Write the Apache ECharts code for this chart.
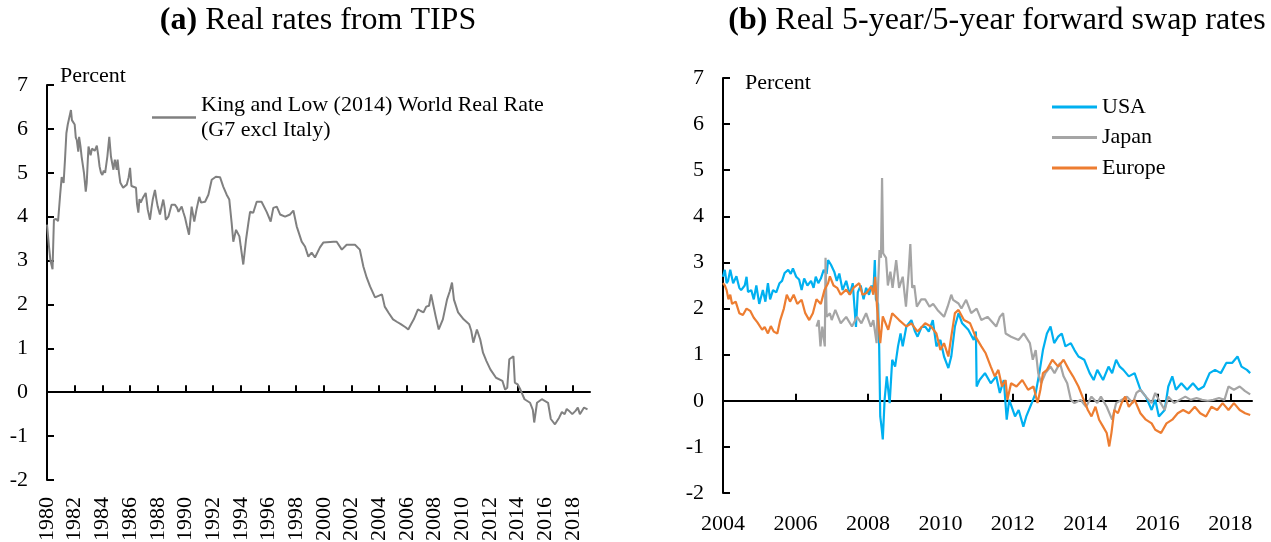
<!DOCTYPE html>
<html>
<head>
<meta charset="utf-8">
<script src="https://cdn.jsdelivr.net/npm/echarts@6/dist/echarts.min.js"></script>
<style>
  html, body { margin: 0; padding: 0; background: #fff; }
  #chart { width: 1271px; height: 542px; }
</style>
</head>
<body>
<div id="chart"></div>
<script>
// ---- data ----
var leftLabelYears = [1980, 1982, 1984, 1986, 1988, 1990, 1992, 1994, 1996, 1998, 2000, 2002, 2004, 2006, 2008, 2010, 2012, 2014, 2016, 2018];
var leftTickYears = [1982, 1984, 1986, 1988, 1990, 1992, 1994, 1996, 1998, 2000, 2002, 2004, 2006, 2008, 2010, 2012, 2014, 2016, 2018];
var rightLabelYears = [2004, 2006, 2008, 2010, 2012, 2014, 2016, 2018];
var rightTickYears = [2006, 2008, 2010, 2012, 2014, 2016, 2018];

// King and Low (2014) world real rate, [year, percent]
var kingLowData = [
  [1980.0, 3.82], [1980.15, 3.3], [1980.25, 3.0], [1980.4, 2.8], [1980.5, 3.93], [1980.65, 3.95], [1980.8, 3.9],
  [1980.95, 4.5], [1981.06, 4.9], [1981.2, 4.77], [1981.3, 5.3], [1981.4, 5.9], [1981.5, 6.1], [1981.6, 6.13],
  [1981.73, 6.43], [1981.8, 6.2], [1981.9, 6.16], [1982.0, 6.1], [1982.08, 5.8], [1982.15, 5.75], [1982.26, 5.48],
  [1982.32, 5.82], [1982.42, 5.6], [1982.5, 5.37], [1982.6, 5.15], [1982.67, 5.0], [1982.8, 4.57], [1982.87, 4.77],
  [1982.95, 5.3], [1983.0, 5.6], [1983.15, 5.4], [1983.25, 5.55], [1983.35, 5.57], [1983.45, 5.5], [1983.6, 5.62],
  [1983.7, 5.4], [1983.8, 5.14], [1983.9, 5.0], [1984.0, 4.95], [1984.1, 5.05], [1984.2, 5.0], [1984.36, 5.37],
  [1984.5, 5.82], [1984.62, 5.37], [1984.72, 5.2], [1984.8, 5.07], [1984.9, 5.3], [1985.04, 5.07], [1985.1, 5.3],
  [1985.2, 5.0], [1985.3, 4.77], [1985.4, 4.8], [1985.5, 4.66], [1985.6, 4.7], [1985.76, 4.73], [1985.9, 4.9],
  [1986.0, 5.11], [1986.1, 4.7], [1986.24, 4.68], [1986.43, 4.66], [1986.5, 4.3], [1986.6, 4.09], [1986.68, 4.4],
  [1986.77, 4.32], [1986.96, 4.45], [1987.13, 4.54], [1987.28, 4.16], [1987.44, 3.93], [1987.55, 4.2], [1987.64, 4.39],
  [1987.8, 4.61], [1987.9, 4.4], [1988.0, 4.23], [1988.16, 4.05], [1988.4, 4.39], [1988.5, 4.2], [1988.58, 3.93],
  [1988.77, 4.0], [1989.0, 4.27], [1989.25, 4.27], [1989.4, 4.2], [1989.5, 4.11], [1989.73, 4.23], [1989.85, 4.1],
  [1989.97, 3.98], [1990.1, 3.8], [1990.26, 3.59], [1990.45, 4.23], [1990.64, 3.89], [1990.8, 4.16], [1991.0, 4.45],
  [1991.13, 4.32], [1991.42, 4.34], [1991.66, 4.5], [1991.9, 4.84], [1992.2, 4.91], [1992.5, 4.9], [1992.74, 4.68],
  [1992.98, 4.5], [1993.17, 4.39], [1993.34, 3.86], [1993.46, 3.43], [1993.66, 3.7], [1993.9, 3.55], [1994.0, 3.32],
  [1994.18, 2.91], [1994.38, 3.48], [1994.55, 3.86], [1994.67, 4.11], [1994.9, 4.09], [1995.15, 4.34], [1995.5, 4.34],
  [1995.87, 4.11], [1996.16, 3.89], [1996.35, 4.2], [1996.6, 4.23], [1996.84, 4.05], [1997.2, 4.0], [1997.56, 4.05],
  [1997.8, 4.14], [1998.04, 3.78], [1998.4, 3.43], [1998.64, 3.32], [1998.88, 3.09], [1999.12, 3.18], [1999.36, 3.07],
  [1999.72, 3.3], [1999.96, 3.41], [2000.7, 3.43], [2000.93, 3.43], [2001.3, 3.25], [2001.65, 3.36], [2002.25, 3.36],
  [2002.6, 3.25], [2002.86, 2.86], [2003.1, 2.61], [2003.34, 2.41], [2003.7, 2.16], [2004.2, 2.23], [2004.4, 1.95],
  [2004.7, 1.8], [2005.0, 1.66], [2005.3, 1.6], [2005.56, 1.55], [2005.9, 1.48], [2006.1, 1.43], [2006.3, 1.55],
  [2006.5, 1.66], [2006.8, 1.89], [2007.0, 1.85], [2007.2, 1.82], [2007.4, 1.95], [2007.6, 1.97], [2007.75, 2.23],
  [2007.9, 2.0], [2008.1, 1.7], [2008.3, 1.43], [2008.6, 1.66], [2008.9, 2.11], [2009.1, 2.3], [2009.26, 2.5],
  [2009.4, 2.11], [2009.7, 1.82], [2010.1, 1.66], [2010.5, 1.55], [2010.65, 1.4], [2010.8, 1.13], [2011.06, 1.43],
  [2011.3, 1.2], [2011.5, 0.9], [2011.75, 0.71], [2012.03, 0.52], [2012.44, 0.33], [2012.9, 0.26], [2013.1, 0.06],
  [2013.25, 0.1], [2013.4, 0.75], [2013.7, 0.82], [2013.8, 0.22], [2014.0, 0.18], [2014.2, 0.06], [2014.5, -0.16],
  [2014.9, -0.24], [2015.1, -0.4], [2015.2, -0.69], [2015.4, -0.24], [2015.75, -0.16], [2016.2, -0.24], [2016.4, -0.61],
  [2016.7, -0.73], [2017.0, -0.58], [2017.2, -0.45], [2017.4, -0.5], [2017.55, -0.38], [2017.7, -0.42], [2017.95, -0.5],
  [2018.2, -0.42], [2018.35, -0.35], [2018.5, -0.5], [2018.8, -0.35], [2019.05, -0.39]
];

var usaData = [
  [2004.0, 2.69], [2004.05, 2.84], [2004.1, 2.55], [2004.14, 2.6], [2004.2, 2.84], [2004.28, 2.55], [2004.37, 2.7],
  [2004.45, 2.45], [2004.5, 2.4], [2004.6, 2.5], [2004.65, 2.69], [2004.69, 2.36], [2004.78, 2.4], [2004.85, 2.2],
  [2004.92, 2.5], [2005.0, 2.1], [2005.1, 2.4], [2005.17, 2.15], [2005.24, 2.55], [2005.3, 2.2], [2005.38, 2.4],
  [2005.47, 2.35], [2005.56, 2.55], [2005.63, 2.6], [2005.7, 2.77], [2005.8, 2.84], [2005.87, 2.75], [2005.93, 2.87],
  [2006.02, 2.69], [2006.1, 2.63], [2006.17, 2.4], [2006.24, 2.65], [2006.33, 2.5], [2006.43, 2.6], [2006.5, 2.45],
  [2006.56, 2.69], [2006.63, 2.55], [2006.7, 2.65], [2006.78, 2.84], [2006.86, 2.75], [2006.9, 3.05], [2006.98, 2.95],
  [2007.07, 2.8], [2007.14, 2.6], [2007.21, 2.76], [2007.3, 2.4], [2007.4, 2.6], [2007.5, 2.3], [2007.58, 2.55],
  [2007.67, 1.6], [2007.72, 2.35], [2007.8, 2.5], [2007.88, 2.2], [2007.95, 2.45], [2008.03, 2.3], [2008.1, 2.5],
  [2008.15, 2.35], [2008.19, 3.05], [2008.22, 2.2], [2008.28, 2.1], [2008.31, 1.18], [2008.34, -0.34], [2008.38, -0.6],
  [2008.41, -0.84], [2008.46, 0.02], [2008.52, 0.53], [2008.6, -0.05], [2008.67, 0.89], [2008.75, 0.74], [2008.83, 1.18],
  [2008.9, 1.46], [2008.96, 1.18], [2009.06, 1.61], [2009.2, 1.75], [2009.3, 1.5], [2009.37, 1.39], [2009.48, 1.6],
  [2009.58, 1.61], [2009.68, 1.5], [2009.79, 1.75], [2009.89, 1.18], [2010.0, 1.32], [2010.1, 0.96], [2010.22, 0.71],
  [2010.3, 0.96], [2010.4, 1.61], [2010.5, 1.9], [2010.6, 1.68], [2010.77, 1.54], [2010.92, 1.32], [2010.98, 1.5],
  [2011.0, 0.31], [2011.08, 0.45], [2011.23, 0.6], [2011.39, 0.38], [2011.54, 0.53], [2011.64, 0.17], [2011.75, 0.45],
  [2011.83, -0.41], [2011.9, 0.02], [2012.06, -0.34], [2012.16, -0.2], [2012.29, -0.56], [2012.37, -0.34], [2012.52, -0.05],
  [2012.63, 0.17], [2012.73, 0.6], [2012.83, 1.1], [2012.94, 1.46], [2013.04, 1.61], [2013.14, 1.25], [2013.25, 1.39],
  [2013.35, 1.46], [2013.45, 1.18], [2013.6, 1.25], [2013.7, 1.1], [2013.81, 0.96], [2013.97, 0.89], [2014.12, 0.6],
  [2014.23, 0.45], [2014.33, 0.67], [2014.49, 0.45], [2014.64, 0.74], [2014.74, 0.6], [2014.85, 0.89], [2014.95, 0.74],
  [2015.05, 0.67], [2015.2, 0.53], [2015.36, 0.6], [2015.52, 0.24], [2015.67, 0.09], [2015.83, -0.2], [2015.93, 0.02],
  [2016.03, -0.34], [2016.19, -0.2], [2016.29, 0.31], [2016.4, 0.53], [2016.5, 0.24], [2016.65, 0.38], [2016.81, 0.24],
  [2016.97, 0.38], [2017.12, 0.24], [2017.27, 0.31], [2017.43, 0.6], [2017.58, 0.67], [2017.74, 0.6], [2017.89, 0.82],
  [2018.05, 0.82], [2018.2, 0.96], [2018.31, 0.74], [2018.46, 0.67], [2018.55, 0.6]
];

var japanData = [
  [2006.58, 1.61], [2006.64, 1.75], [2006.69, 1.18], [2006.74, 1.61], [2006.81, 1.18], [2006.83, 3.1], [2006.86, 1.82],
  [2006.95, 1.9], [2007.0, 1.75], [2007.1, 1.97], [2007.25, 1.68], [2007.4, 1.82], [2007.56, 1.61], [2007.7, 1.82],
  [2007.82, 1.68], [2007.95, 1.9], [2008.08, 1.61], [2008.15, 1.75], [2008.24, 1.25], [2008.28, 2.5], [2008.32, 3.27],
  [2008.36, 3.1], [2008.39, 4.83], [2008.42, 3.2], [2008.5, 3.1], [2008.55, 2.5], [2008.62, 2.8], [2008.68, 2.45],
  [2008.78, 3.05], [2008.86, 2.45], [2008.96, 2.69], [2009.05, 2.04], [2009.12, 2.75], [2009.17, 3.4], [2009.22, 2.45],
  [2009.28, 2.5], [2009.35, 2.04], [2009.47, 2.2], [2009.58, 2.2], [2009.7, 2.04], [2009.8, 2.1], [2009.92, 1.97],
  [2010.1, 1.82], [2010.2, 2.04], [2010.3, 2.3], [2010.35, 2.19], [2010.5, 2.11], [2010.58, 2.0], [2010.71, 2.19],
  [2010.85, 1.9], [2011.0, 2.0], [2011.13, 1.75], [2011.3, 1.82], [2011.54, 1.61], [2011.64, 1.82], [2011.73, 1.9],
  [2011.8, 1.46], [2011.95, 1.39], [2012.16, 1.32], [2012.3, 1.46], [2012.47, 1.25], [2012.55, 0.89], [2012.63, 1.1],
  [2012.7, 0.6], [2012.78, 0.38], [2012.9, 0.6], [2013.04, 0.74], [2013.15, 0.6], [2013.3, 0.82], [2013.4, 0.53],
  [2013.5, 0.38], [2013.6, 0.02], [2013.7, -0.05], [2013.87, 0.02], [2014.02, -0.13], [2014.17, 0.09], [2014.33, -0.05],
  [2014.43, 0.09], [2014.59, -0.13], [2014.74, -0.41], [2014.85, -0.05], [2015.0, 0.02], [2015.15, 0.09], [2015.31, -0.05],
  [2015.41, 0.17], [2015.52, 0.24], [2015.67, 0.09], [2015.83, -0.05], [2015.93, 0.17], [2016.03, 0.02], [2016.19, -0.2],
  [2016.29, 0.09], [2016.45, -0.05], [2016.6, 0.02], [2016.76, 0.09], [2016.91, 0.02], [2017.07, 0.06], [2017.22, 0.02],
  [2017.38, 0.0], [2017.53, 0.02], [2017.69, 0.06], [2017.84, 0.02], [2017.95, 0.31], [2018.1, 0.24], [2018.26, 0.31],
  [2018.41, 0.21], [2018.55, 0.14]
];

var europeData = [
  [2004.0, 2.55], [2004.05, 2.5], [2004.1, 2.4], [2004.15, 2.2], [2004.2, 2.3], [2004.25, 2.1], [2004.35, 2.15],
  [2004.45, 1.9], [2004.55, 1.86], [2004.65, 2.0], [2004.75, 1.95], [2004.85, 1.8], [2004.95, 1.7], [2005.08, 1.54],
  [2005.15, 1.6], [2005.24, 1.46], [2005.32, 1.62], [2005.4, 1.5], [2005.5, 1.46], [2005.58, 1.75], [2005.68, 2.0],
  [2005.76, 2.3], [2005.85, 2.15], [2005.95, 2.3], [2006.05, 2.1], [2006.17, 2.19], [2006.27, 1.9], [2006.38, 1.75],
  [2006.48, 1.9], [2006.58, 2.2], [2006.7, 2.1], [2006.8, 2.4], [2006.9, 2.55], [2006.95, 2.7], [2007.05, 2.5],
  [2007.15, 2.45], [2007.25, 2.3], [2007.4, 2.41], [2007.5, 2.3], [2007.6, 2.45], [2007.76, 2.55], [2007.85, 2.3],
  [2007.95, 2.33], [2008.09, 2.48], [2008.15, 2.3], [2008.2, 2.69], [2008.25, 2.04], [2008.34, 1.25], [2008.41, 1.83],
  [2008.56, 1.54], [2008.67, 1.9], [2008.86, 1.75], [2009.06, 1.61], [2009.2, 1.68], [2009.37, 1.5], [2009.58, 1.68],
  [2009.74, 1.61], [2009.89, 1.46], [2010.0, 1.1], [2010.1, 1.25], [2010.22, 0.96], [2010.3, 1.39], [2010.4, 1.9],
  [2010.5, 1.97], [2010.65, 1.75], [2010.82, 1.68], [2010.97, 1.39], [2011.13, 1.18], [2011.25, 1.03], [2011.39, 0.74],
  [2011.5, 0.53], [2011.6, 0.67], [2011.7, 0.31], [2011.8, 0.45], [2011.85, 0.02], [2011.95, 0.38], [2012.1, 0.31],
  [2012.26, 0.45], [2012.42, 0.24], [2012.57, 0.31], [2012.68, -0.05], [2012.76, 0.24], [2012.83, 0.6], [2012.94, 0.67],
  [2013.09, 0.89], [2013.25, 0.74], [2013.4, 0.89], [2013.55, 0.67], [2013.66, 0.53], [2013.81, 0.31], [2013.92, 0.09],
  [2014.07, -0.2], [2014.17, -0.34], [2014.28, -0.13], [2014.38, -0.41], [2014.49, -0.56], [2014.59, -0.7], [2014.66, -0.99],
  [2014.72, -0.7], [2014.8, -0.2], [2014.9, -0.27], [2015.0, -0.05], [2015.1, 0.09], [2015.2, -0.13], [2015.36, 0.02],
  [2015.52, -0.27], [2015.67, -0.41], [2015.83, -0.49], [2015.93, -0.63], [2016.09, -0.7], [2016.24, -0.49], [2016.4, -0.41],
  [2016.55, -0.27], [2016.7, -0.2], [2016.86, -0.27], [2017.02, -0.13], [2017.17, -0.27], [2017.33, -0.34], [2017.48, -0.13],
  [2017.64, -0.2], [2017.79, -0.05], [2017.95, -0.2], [2018.1, -0.05], [2018.26, -0.2], [2018.41, -0.27], [2018.55, -0.31]
];

// ---- styles ----
var FONT = '"Liberation Serif", "Times New Roman", serif';
var txt = { fontFamily: FONT, fontSize: 22, color: '#000' };
var blackLine = { color: '#000', width: 2 };
var plainNumber = function (v) { return String(v); };

function yAxisFor(gridIndex, nameGap, namePad) {
  return {
    gridIndex: gridIndex, type: 'value', min: -2, max: 7, interval: 1,
    name: 'Percent', nameLocation: 'end', nameGap: nameGap,
    nameTextStyle: { fontFamily: FONT, fontSize: 22, color: '#000', align: 'left', verticalAlign: 'middle', padding: [0, 0, 0, namePad] },
    axisLine: { show: true, onZero: false, lineStyle: blackLine },
    axisTick: { show: true, inside: true, length: 7, lineStyle: blackLine },
    axisLabel: Object.assign({ margin: 19, formatter: plainNumber }, txt),
    splitLine: { show: false }
  };
}

function titleFor(label, rest, centerX) {
  return {
    text: '{b|' + label + '} ' + rest, left: centerX, top: 0, textAlign: 'center',
    textStyle: { fontFamily: FONT, fontSize: 32, fontWeight: 'normal', color: '#000',
      rich: { b: { fontFamily: FONT, fontSize: 32, fontWeight: 'bold', color: '#000' } } }
  };
}

var chart = echarts.init(document.getElementById('chart'), null, { renderer: 'canvas' });
var option = {
  animation: false,
  backgroundColor: '#fff',
  title: [
    titleFor('(a)', 'Real rates from TIPS', 313),
    titleFor('(b)', 'Real 5-year/5-year forward swap rates', 992)
  ],
  legend: [
    { data: [{ name: 'King and Low (2014) World Real Rate', icon: 'rect' }], left: 152, top: 80, orient: 'vertical', padding: 0,
      itemWidth: 44, itemHeight: 2.5,
      formatter: function () { return 'King and Low (2014) World Real Rate\n(G7 excl Italy)'; },
      textStyle: { fontFamily: FONT, fontSize: 22, color: '#000', lineHeight: 25, padding: [25, 0, 0, 0] } },
    { data: [{ name: 'USA', icon: 'rect' }, { name: 'Japan', icon: 'rect' }, { name: 'Europe', icon: 'rect' }],
      left: 1052, top: 96, orient: 'vertical', padding: 0,
      itemWidth: 45, itemHeight: 3, itemGap: 8.5,
      textStyle: { fontFamily: FONT, fontSize: 22, color: '#000', lineHeight: 22 } }
  ],
  grid: [
    { left: 47, top: 85, width: 543, height: 395, outerBoundsMode: 'none' },
    { left: 723, top: 78, width: 529, height: 415, outerBoundsMode: 'none' }
  ],
  xAxis: [
    // (a) labels along the bottom
    { gridIndex: 0, type: 'value', min: 1980, max: 2019.23, position: 'bottom',
      axisLine: { show: false, onZero: false }, axisTick: { show: false }, splitLine: { show: false },
      axisLabel: Object.assign({ rotate: 90, margin: 17, customValues: leftLabelYears, formatter: plainNumber }, txt) },
    // (a) zero line with upward ticks
    { gridIndex: 0, type: 'value', min: 1980, max: 2019.23, position: 'bottom',
      axisLine: { show: true, onZero: true, lineStyle: blackLine },
      axisTick: { show: true, inside: true, length: 7, lineStyle: blackLine, customValues: leftTickYears },
      axisLabel: { show: false }, splitLine: { show: false } },
    // (b) labels
    { gridIndex: 1, type: 'value', min: 2004, max: 2018.6, position: 'bottom',
      axisLine: { show: false, onZero: false }, axisTick: { show: false }, splitLine: { show: false },
      axisLabel: Object.assign({ margin: 20, customValues: rightLabelYears, formatter: plainNumber }, txt) },
    // (b) zero line
    { gridIndex: 1, type: 'value', min: 2004, max: 2018.6, position: 'bottom',
      axisLine: { show: true, onZero: true, lineStyle: blackLine },
      axisTick: { show: true, inside: true, length: 7, lineStyle: blackLine, customValues: rightTickYears },
      axisLabel: { show: false }, splitLine: { show: false } }
  ],
  yAxis: [yAxisFor(0, 9, 13), yAxisFor(1, -5, 22)],
  series: [
    { name: 'King and Low (2014) World Real Rate', type: 'line', xAxisIndex: 1, yAxisIndex: 0,
      data: kingLowData, showSymbol: false, symbol: 'none', color: '#808080',
      lineStyle: { color: '#808080', width: 2 } },
    { name: 'USA', type: 'line', xAxisIndex: 3, yAxisIndex: 1, data: usaData, showSymbol: false, symbol: 'none',
      color: '#00B0F0', lineStyle: { color: '#00B0F0', width: 2.2 } },
    { name: 'Japan', type: 'line', xAxisIndex: 3, yAxisIndex: 1, data: japanData, showSymbol: false, symbol: 'none',
      color: '#A5A5A5', lineStyle: { color: '#A5A5A5', width: 2.2 } },
    { name: 'Europe', type: 'line', xAxisIndex: 3, yAxisIndex: 1, data: europeData, showSymbol: false, symbol: 'none',
      color: '#ED7D31', lineStyle: { color: '#ED7D31', width: 2.2 } }
  ]
};
chart.setOption(option);
</script>
</body>
</html>
